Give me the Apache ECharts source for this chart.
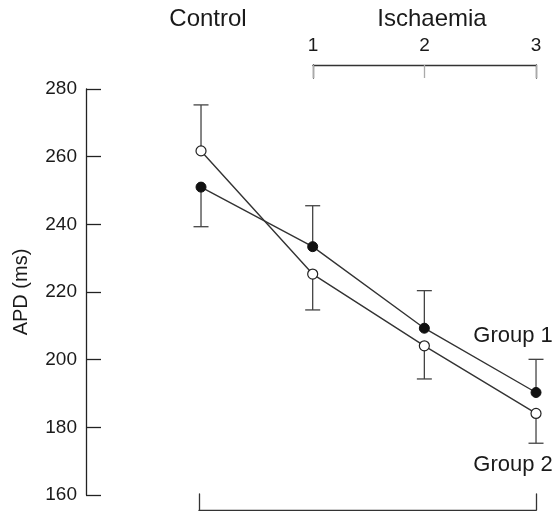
<!DOCTYPE html>
<html>
<head>
<meta charset="utf-8">
<script src="https://cdn.jsdelivr.net/npm/echarts@6/dist/echarts.min.js"></script>
<style>
  html, body { margin: 0; padding: 0; background: #fff; }
  #chart { width: 555px; height: 511px; }
</style>
</head>
<body>
<div id="chart"></div>
<script>
// Time points: 0 = control, 1..3 = ischaemia stages
const timePoints = [0, 1, 2, 3];
const ischaemiaTicks = [1, 2, 3];
const yTicks = [160, 180, 200, 220, 240, 260, 280];

// Mean APD (ms) per group and its error bar (SEM, ms)
const group1Mean = [251.0, 233.4, 209.3, 190.3];
const group1Err  = [11.7, 12.1, 11.1, 9.8];
const group1Side = [-1, 1, 1, 1];   // error bar drawn below (-1) or above (+1)

const group2Mean = [261.7, 225.3, 204.1, 184.1];
const group2Err  = [13.6, 10.6, 9.8, 8.8];
const group2Side = [1, -1, -1, -1];

const FONT = '"Liberation Sans", Arial, sans-serif';
const INK = '#1a1a1a';

function pairs(means) {
  return timePoints.map((t, i) => [t, means[i]]);
}
function errRows(means, errs, side) {
  return timePoints.map((t, i) => [t, means[i], means[i] + side[i] * errs[i]]);
}

function renderErr(params, api) {
  const x = api.value(0);
  const p0 = api.coord([x, api.value(1)]);
  const p1 = api.coord([x, api.value(2)]);
  const cap = 7.5;
  const st = { stroke: '#444', lineWidth: 1.3 };
  return {
    type: 'group',
    children: [
      { type: 'line', shape: { x1: p0[0], y1: p0[1], x2: p1[0], y2: p1[1] }, style: st },
      { type: 'line', shape: { x1: p1[0] - cap, y1: p1[1], x2: p1[0] + cap, y2: p1[1] }, style: st }
    ]
  };
}

function bracketY(gridIndex, pos) {
  return {
    gridIndex: gridIndex, type: 'value', min: 0, max: 1, position: pos,
    axisLine: { show: true, onZero: false, lineStyle: { color: '#333', width: 1.3 } },
    axisTick: { show: false }, axisLabel: { show: false }, splitLine: { show: false }
  };
}

function lastLabel(text, offset) {
  return { show: true, position: 'inside', offset: offset, formatter: text,
           fontFamily: FONT, fontSize: 22, color: INK };
}

const g1Data = pairs(group1Mean);
g1Data[3] = { value: g1Data[3], label: lastLabel('Group 1', [-23, -57]) };
const g2Data = pairs(group2Mean);
g2Data[3] = { value: g2Data[3], label: lastLabel('Group 2', [-23, 51]) };

const chart = echarts.init(document.getElementById('chart'), null, { renderer: 'canvas' });
chart.setOption({
  animation: false,
  backgroundColor: '#fff',
  grid: [
    { left: 86, top: 89, width: 469, height: 406 },   // main plot
    { left: 313, top: 65, width: 223, height: 13 },   // ischaemia bracket
    { left: 199, top: 494, width: 337, height: 16 }   // bottom bracket
  ],
  xAxis: [
    { gridIndex: 0, type: 'value', min: -1.03, max: 3.17, show: false },
    {
      gridIndex: 1, type: 'value', min: ischaemiaTicks[0], max: ischaemiaTicks[ischaemiaTicks.length - 1],
      interval: 1, position: 'top',
      axisLine: { show: true, onZero: false, lineStyle: { color: '#333', width: 1.3 } },
      axisTick: { show: true, inside: true, length: 13, lineStyle: { color: '#aaa', width: 1.3 } },
      axisLabel: { show: true, margin: 10, fontFamily: FONT, fontSize: 19, color: INK },
      splitLine: { show: false }
    },
    {
      gridIndex: 2, type: 'value', min: timePoints[0], max: timePoints[timePoints.length - 1], position: 'bottom',
      axisLine: { show: true, onZero: false, lineStyle: { color: '#333', width: 1.3 } },
      axisTick: { show: false }, axisLabel: { show: false }, splitLine: { show: false }
    }
  ],
  yAxis: [
    {
      gridIndex: 0, type: 'value', min: yTicks[0], max: yTicks[yTicks.length - 1], interval: 20,
      name: 'APD (ms)', nameLocation: 'middle', nameGap: 55,
      nameTextStyle: { fontFamily: FONT, fontSize: 20, color: INK },
      axisLine: { show: true, onZero: false, lineStyle: { color: '#222', width: 1.3 } },
      axisTick: { show: true, inside: true, length: 15, lineStyle: { color: '#222', width: 1.3 } },
      axisLabel: { margin: 9, fontFamily: FONT, fontSize: 19, color: INK },
      splitLine: { show: false }
    },
    bracketY(1, 'left'),
    bracketY(1, 'right'),
    bracketY(2, 'left'),
    bracketY(2, 'right')
  ],
  graphic: [
    { type: 'text', x: 208, y: 19, style: { text: 'Control', font: '24px ' + FONT, fill: INK,
      align: 'center', textAlign: 'center', verticalAlign: 'middle', textVerticalAlign: 'middle' } },
    { type: 'text', x: 432, y: 19, style: { text: 'Ischaemia', font: '24px ' + FONT, fill: INK,
      align: 'center', textAlign: 'center', verticalAlign: 'middle', textVerticalAlign: 'middle' } }
  ],
  series: [
    { type: 'custom', name: 'Group 1 SEM', xAxisIndex: 0, yAxisIndex: 0, z: 1,
      renderItem: renderErr, data: errRows(group1Mean, group1Err, group1Side) },
    { type: 'custom', name: 'Group 2 SEM', xAxisIndex: 0, yAxisIndex: 0, z: 1,
      renderItem: renderErr, data: errRows(group2Mean, group2Err, group2Side) },
    { type: 'line', name: 'Group 1', xAxisIndex: 0, yAxisIndex: 0, z: 3,
      data: g1Data, symbol: 'circle', symbolSize: 10,
      lineStyle: { color: '#333', width: 1.4 },
      itemStyle: { color: '#111', borderColor: '#111', borderWidth: 1 } },
    { type: 'line', name: 'Group 2', xAxisIndex: 0, yAxisIndex: 0, z: 3,
      data: g2Data, symbol: 'circle', symbolSize: 10,
      lineStyle: { color: '#333', width: 1.4 },
      itemStyle: { color: '#fff', borderColor: '#222', borderWidth: 1.2 } }
  ]
});
</script>
</body>
</html>
